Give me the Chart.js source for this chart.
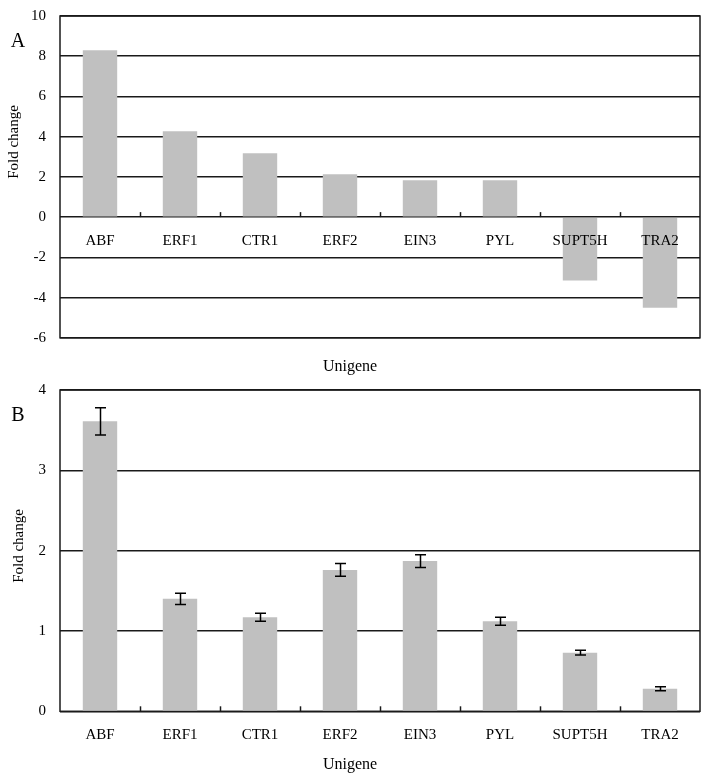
<!DOCTYPE html>
<html>
<head>
<meta charset="utf-8">
<script src="https://cdn.jsdelivr.net/npm/chart.js@4.4.1/dist/chart.umd.min.js"></script>
<style>
  html, body { margin: 0; padding: 0; background: #fff; }
  canvas { display: block; }
</style>
</head>
<body>
<canvas id="chartA" width="710" height="380"></canvas>
<canvas id="chartB" width="710" height="394"></canvas>
<script>
// ── data ────────────────────────────────────────────────────────────────
const GENES   = ['ABF', 'ERF1', 'CTR1', 'ERF2', 'EIN3', 'PYL', 'SUPT5H', 'TRA2'];
const FOLD_A  = [8.3, 4.27, 3.18, 2.13, 1.83, 1.83, -3.15, -4.5];
const FOLD_B  = [3.61, 1.40, 1.17, 1.76, 1.87, 1.12, 0.73, 0.28];
const ERR_B   = [0.17, 0.07, 0.05, 0.08, 0.08, 0.05, 0.03, 0.025];
const TICKS_A = [-6, -4, -2, 0, 2, 4, 6, 8, 10];
const TICKS_B = [0, 1, 2, 3, 4];

const SERIF = "'Liberation Serif', 'Times New Roman', serif";
const BAR   = '#c0c0c0';
const LINE  = '#1a1a1a';

// ── plugins ─────────────────────────────────────────────────────────────
const framePlugin = {
  id: 'frame',
  beforeDatasetsDraw(chart) {
    const { ctx, chartArea: a } = chart;
    ctx.save();
    ctx.strokeStyle = LINE;
    ctx.lineWidth = 1.5;
    ctx.strokeRect(a.left, a.top, a.right - a.left, a.bottom - a.top);
    ctx.restore();
  }
};

// small tick marks between categories, pointing up from the zero line
const catTicksPlugin = {
  id: 'catTicks',
  beforeDatasetsDraw(chart) {
    const { ctx } = chart;
    const x = chart.scales.x, y = chart.scales.y;
    const y0 = y.getPixelForValue(0);
    ctx.save();
    ctx.strokeStyle = LINE;
    ctx.lineWidth = 1.5;
    for (let i = 0; i < GENES.length - 1; i++) {
      const px = Math.round((x.getPixelForValue(i) + x.getPixelForValue(i + 1)) / 2) + 0.5;
      ctx.beginPath();
      ctx.moveTo(px, y0);
      ctx.lineTo(px, y0 - 5);
      ctx.stroke();
    }
    ctx.restore();
  }
};

const errorBarPlugin = {
  id: 'errorBars',
  afterDatasetsDraw(chart, args, opts) {
    if (!opts.errors) return;
    const { ctx } = chart;
    const y = chart.scales.y;
    const values = chart.data.datasets[0].data;
    ctx.save();
    ctx.strokeStyle = '#000';
    ctx.lineWidth = 1.5;
    chart.getDatasetMeta(0).data.forEach((bar, i) => {
      const e = opts.errors[i];
      const top = y.getPixelForValue(values[i] + e);
      const bot = y.getPixelForValue(values[i] - e);
      const cx = Math.round(bar.x) + 0.5;
      ctx.beginPath();
      ctx.moveTo(cx, top); ctx.lineTo(cx, bot);
      ctx.moveTo(cx - 5.5, top); ctx.lineTo(cx + 5.5, top);
      ctx.moveTo(cx - 5.5, bot); ctx.lineTo(cx + 5.5, bot);
      ctx.stroke();
    });
    ctx.restore();
  }
};

const panelTextPlugin = {
  id: 'panelText',
  afterDraw(chart, args, opts) {
    const { ctx } = chart;
    (opts.items || []).forEach(t => {
      ctx.save();
      ctx.font = t.font;
      ctx.fillStyle = '#000';
      ctx.textAlign = 'center';
      ctx.textBaseline = 'middle';
      ctx.translate(t.x, t.y);
      ctx.rotate(t.rot || 0);
      ctx.fillText(t.text, 0, 0);
      ctx.restore();
    });
  }
};

// ── chart builder ───────────────────────────────────────────────────────
function makeChart(id, values, ticks, opt) {
  const el = document.getElementById(id);
  return new Chart(el, {
    type: 'bar',
    data: {
      labels: GENES,
      datasets: [{
        data: values,
        backgroundColor: BAR,
        borderWidth: 0,
        categoryPercentage: 1,
        barPercentage: 0.43,
      }],
    },
    options: {
      responsive: false,
      animation: false,
      devicePixelRatio: 1,
      layout: { padding: opt.padding },
      plugins: {
        legend: { display: false },
        tooltip: { enabled: false },
        title: {
          display: true,
          text: 'Unigene',
          position: 'bottom',
          color: '#000',
          font: { family: SERIF, size: 16, weight: 'normal' },
          padding: opt.titlePadding,
        },
        errorBars: { errors: opt.errors },
        panelText: { items: opt.texts },
      },
      scales: {
        x: {
          position: opt.xPosition,
          afterFit: s => { if (opt.xHeight) s.height = opt.xHeight; },
          grid: { display: false, drawTicks: false },
          border: { display: false },
          ticks: {
            z: 1,
            color: '#000',
            padding: opt.xPad,
            maxRotation: 0,
            autoSkip: false,
            font: { family: SERIF, size: 15 },
          },
        },
        y: {
          min: ticks[0],
          max: ticks[ticks.length - 1],
          afterBuildTicks: s => { s.ticks = ticks.map(v => ({ value: v })); },
          afterFit: s => { s.width = 60; s.paddingTop = 9; s.paddingBottom = 9; },
          grid: { color: LINE, lineWidth: 1.5, drawTicks: false },
          border: { display: false },
          ticks: {
            color: '#000',
            padding: 14,
            font: { family: SERIF, size: 15 },
          },
        },
      },
    },
    plugins: [framePlugin, catTicksPlugin, errorBarPlugin, panelTextPlugin],
  });
}

makeChart('chartA', FOLD_A, TICKS_A, {
  padding: { top: 16, right: 10, bottom: 0, left: 0 },
  titlePadding: { top: 19, bottom: 4 },
  xPosition: { y: 0 },
  xPad: 15,
  xHeight: null,
  errors: null,
  texts: [
    { text: 'A', x: 18, y: 42, font: '20px ' + SERIF },
    { text: 'Fold change', x: 14, y: 142, rot: -Math.PI / 2, font: '15px ' + SERIF },
  ],
});

makeChart('chartB', FOLD_B, TICKS_B, {
  padding: { top: 10, right: 10, bottom: 0, left: 0 },
  titlePadding: { top: 11, bottom: 0 },
  xPosition: 'bottom',
  xPad: 14.5,
  xHeight: 32.5,
  errors: ERR_B,
  texts: [
    { text: 'B', x: 18, y: 36, font: '20px ' + SERIF },
    { text: 'Fold change', x: 19, y: 166, rot: -Math.PI / 2, font: '15px ' + SERIF },
  ],
});
</script>
</body>
</html>
